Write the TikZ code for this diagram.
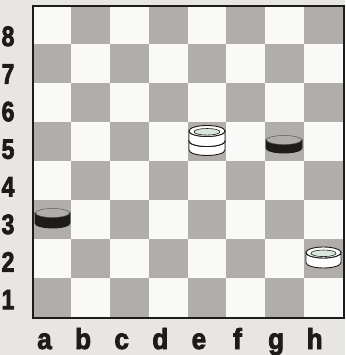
\documentclass[tikz,border=0pt]{standalone}
\usepackage{fontspec}
\setmainfont{Liberation Sans}
\newfontfamily\lblfont{Liberation Sans}[BoldFeatures={FakeBold=3}]
\definecolor{paper}{HTML}{E8E6E3}
\definecolor{darksq}{HTML}{B0ADAA}
\definecolor{lightsq}{HTML}{F9F9F7}
\definecolor{ink}{HTML}{1E1C1B}
\definecolor{recess}{HTML}{D8E6DC}
\tikzset{
  lbl/.style={font=\lblfont\bfseries\fontsize{28}{28}\selectfont, text=ink, inner sep=0pt, anchor=base, xscale=0.82},
  flbl/.style={font=\lblfont\bfseries\fontsize{29}{29}\selectfont, text=ink, inner sep=0pt, anchor=base, xscale=0.9},
  whitedisc/.style={fill=white, draw=ink, line width=0.9pt},
  blackdisc/.style={fill=ink, draw=ink, line width=0.9pt},
  blackrim/.style={draw=gray!70!black, line width=0.5pt},
}
% white disc: #1 cx, #2 top-ellipse centre y, #3 rx, #4 ry, #5 thickness
\newcommand{\wdisc}[5]{%
  \path[whitedisc] (#1-#3,#2) -- (#1-#3,#2+#5) arc[start angle=180,end angle=360,x radius=#3,y radius=-#4] -- (#1+#3,#2) arc[start angle=0,end angle=180,x radius=#3,y radius=#4] -- cycle;
  \path[whitedisc] (#1,#2) ellipse[x radius=#3,y radius=#4];
}
\newcommand{\wring}[4]{%
  \path[fill=recess, draw=ink, line width=0.6pt] (#1,#2+0.8) ellipse[x radius=#3*0.72,y radius=#4*0.6];
}
\newcommand{\bdisc}[5]{%
  \path[blackdisc] (#1-#3,#2) -- (#1-#3,#2+#5) arc[start angle=180,end angle=360,x radius=#3,y radius=-#4] -- (#1+#3,#2) arc[start angle=0,end angle=180,x radius=#3,y radius=#4] -- cycle;
  \path[blackrim] (#1,#2) ellipse[x radius=#3*0.97,y radius=#4*0.9];
}
\begin{document}
\begin{tikzpicture}[x=1pt,y=-1pt]
\useasboundingbox (0,0) rectangle (345,355);
\fill[paper] (0,0) rectangle (345,355);
% board squares
\foreach \f in {0,...,7}{
  \foreach \r in {1,...,8}{
    \pgfmathtruncatemacro{\sqpar}{mod(\f+1+\r,2)}
    \pgfmathsetmacro{\xa}{32+\f*38.875}
    \pgfmathsetmacro{\ya}{5+(8-\r)*39}
    \ifnum\sqpar=0
      \fill[darksq] (\xa,\ya) rectangle ++(38.875,39);
    \else
      \fill[lightsq] (\xa,\ya) rectangle ++(38.875,39);
    \fi
  }
}
\node[draw=ink, line width=2pt, inner sep=0pt, minimum width=311pt, minimum height=312pt, anchor=north west] (board) at (32,5) {};
% rank labels
\foreach \r in {1,...,8}{
  \pgfmathsetmacro{\yb}{46+(8-\r)*37.6}
  \node[lbl] (rank\r) at (8,\yb) {\r};
}
% file labels
\foreach \l [count=\i from 0] in {a,b,c,d,e,f,g,h}{
  \pgfmathsetmacro{\xb}{44.5+\i*38.6}
  \node[flbl] (file\l) at (\xb,349) {\l};
}
% pieces
% white king on e5
\wdisc{207}{141}{18}{5.5}{9}
\wdisc{207}{131}{18}{5.5}{10}
\wring{207}{131}{18}{5.5}
% black on g5
\bdisc{284}{140}{18}{5}{8}
% black on a3
\bdisc{52.5}{213}{17.5}{5}{10}
% white on h2
\wdisc{323.5}{252.5}{17.5}{5.5}{10}
\wring{323.5}{252.5}{17.5}{5.5}
\end{tikzpicture}
\end{document}
